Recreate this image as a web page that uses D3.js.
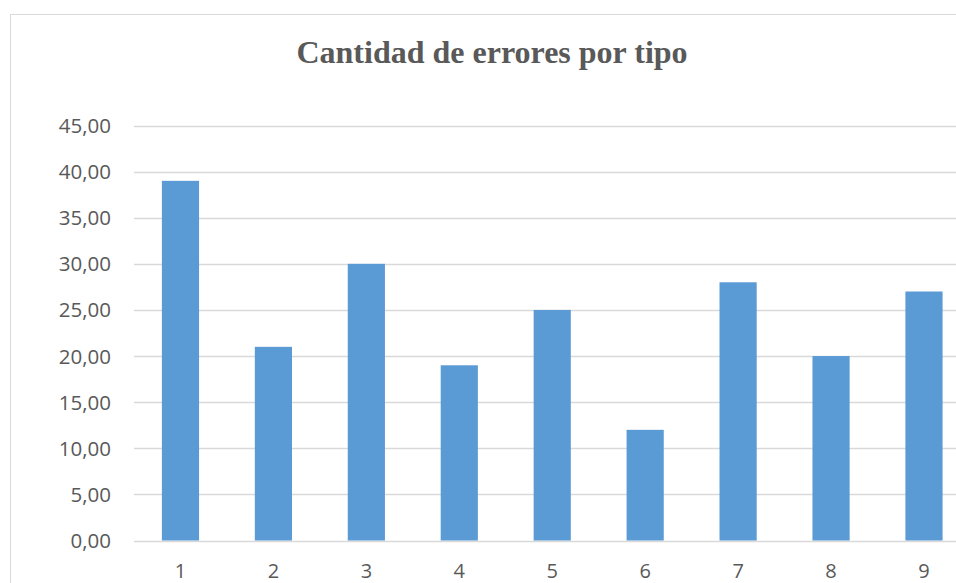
<!DOCTYPE html>
<html>
<head>
<meta charset="utf-8">
<script src="https://cdn.jsdelivr.net/npm/d3@7"></script>
<style>
  html, body { margin: 0; padding: 0; background: #fff; overflow: hidden; }
</style>
</head>
<body>
<script>
// data
const categories = ['1', '2', '3', '4', '5', '6', '7', '8', '9'];
const errors = [39, 21, 30, 19, 25, 12, 28, 20, 27];
const yTicks = [0, 5, 10, 15, 20, 25, 30, 35, 40, 45];
const chartTitle = 'Cantidad de errores por tipo';

const width = 956, height = 583;

let svg = d3.select('body')
    .append('svg')
    .attr('width', width)
    .attr('height', height);

// chart frame (runs past the right and bottom edges, as in the picture)
svg.append('rect')
    .attr('x', 10.5)
    .attr('y', 14.5)
    .attr('width', 1000)
    .attr('height', 620)
    .attr('fill', '#fff')
    .attr('stroke', '#d9d9d9')
    .attr('stroke-width', 1);

// plot area
const plot = { left: 134, top: 125.5, bottom: 540.5, band: 92.94 };

let x = d3.scaleBand()
    .domain(categories)
    .range([plot.left, plot.left + plot.band * categories.length])
    .paddingInner(0.6)
    .paddingOuter(0.3);

let y = d3.scaleLinear()
    .domain([0, 45])
    .range([plot.bottom, plot.top]);

const fmt = v => d3.format('.2f')(v).replace('.', ',');

// gridlines
svg.append('g')
    .selectAll('line')
    .data(yTicks)
    .join('line')
    .attr('x1', plot.left)
    .attr('x2', width + 10)
    .attr('y1', d => Math.round(y(d)) + 0.5)
    .attr('y2', d => Math.round(y(d)) + 0.5)
    .attr('stroke', '#d9d9d9')
    .attr('stroke-width', 1.5);

// y axis labels
svg.append('g')
    .selectAll('text')
    .data(yTicks)
    .join('text')
    .attr('x', 111)
    .attr('y', d => y(d) + 7.5)
    .attr('text-anchor', 'end')
    .attr('font-family', 'Open Sans, sans-serif')
    .attr('font-size', 20.5)
    .attr('fill', '#595959')
    .text(d => fmt(d));

// bars
svg.append('g')
    .selectAll('rect')
    .data(errors)
    .join('rect')
    .attr('x', (d, i) => x(categories[i]))
    .attr('y', d => y(d))
    .attr('width', x.bandwidth())
    .attr('height', d => y(0) - y(d))
    .attr('fill', '#5b9bd5');

// x axis labels
svg.append('g')
    .selectAll('text')
    .data(categories)
    .join('text')
    .attr('x', d => x(d) + x.bandwidth() / 2)
    .attr('y', 578)
    .attr('text-anchor', 'middle')
    .attr('font-family', 'Open Sans, sans-serif')
    .attr('font-size', 20)
    .attr('fill', '#595959')
    .text(d => d);

// title
svg.append('text')
    .attr('x', 492)
    .attr('y', 63)
    .attr('text-anchor', 'middle')
    .attr('font-family', 'Liberation Serif, Times New Roman, serif')
    .attr('font-weight', 'bold')
    .attr('font-size', 32)
    .attr('fill', '#595959')
    .text(chartTitle);
</script>
</body>
</html>
